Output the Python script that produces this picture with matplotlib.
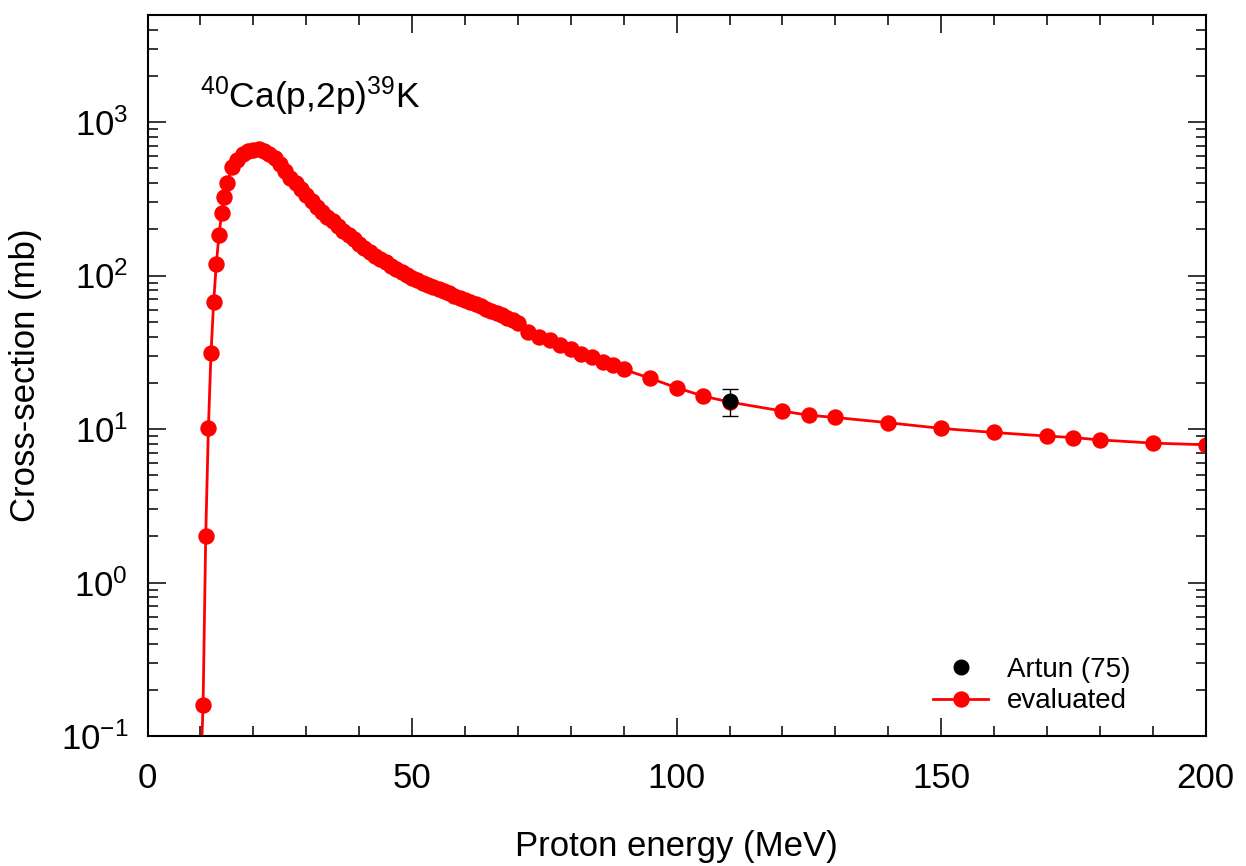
import math
import matplotlib
matplotlib.use("Agg")
import matplotlib.pyplot as plt
from matplotlib.ticker import MultipleLocator, LogLocator, FuncFormatter, NullFormatter

plt.rcParams["font.family"] = ["Liberation Sans", "DejaVu Sans"]

# --- evaluated cross-section (MeV, mb) ---
energy = [10.0, 10.5, 11.0, 11.5, 12.0, 12.5, 13.0, 13.5, 14.0, 14.5, 15.0,
          16, 17, 18, 19, 20, 21, 22, 23, 24, 25, 26, 27, 28, 29, 30,
          31, 32, 33, 34, 35, 36, 37, 38, 39, 40, 41, 42, 43, 44, 45,
          46, 47, 48, 49, 50, 51, 52, 53, 54, 55, 56, 57, 58, 59, 60,
          61, 62, 63, 64, 65, 66, 67, 68, 69, 70,
          72, 74, 76, 78, 80, 82, 84, 86, 88, 90,
          95, 100, 105, 110, 120, 125, 130, 140, 150, 160, 170, 175, 180, 190, 200]
xs = [0.05, 0.159, 2.02, 10.1, 31.4, 67.5, 119, 183, 254, 326, 399,
      507, 570, 620, 648, 662, 665, 650, 620, 580, 530, 480, 435, 398, 365, 335,
      307, 281, 260, 241, 225, 210, 196, 183, 172, 161, 152, 143, 135, 128, 122,
      116, 110, 105, 101, 97, 93, 90, 87, 84.5, 82, 79, 76.5, 74, 71.5, 69,
      67, 65, 63, 61, 59, 57, 55, 53, 51, 49,
      43, 39.9, 38, 35.2, 33, 30.8, 29.3, 27.4, 26.1, 24.5,
      21.4, 18.6, 16.4, 15.0, 13.1, 12.3, 11.9, 11.0, 10.1, 9.5, 9.0, 8.8, 8.5, 8.1, 7.9]

# --- experimental point ---
exp_energy = [110]
exp_xs = [15.2]
exp_err = [3.0]

fig = plt.figure(figsize=(12.46, 8.66), dpi=100)
ax = fig.add_axes([0.1184, 0.150, 0.8493, 0.833])

line_eval, = ax.plot(energy, xs, "-o", color="red", lw=2, ms=10.8,
                     mec="red", mfc="red", zorder=2)
ax.errorbar(exp_energy, exp_xs, yerr=exp_err, fmt="none", ecolor="black",
            elinewidth=1, capsize=6, capthick=1, zorder=3)
pt_exp, = ax.plot(exp_energy, exp_xs, "o", color="black", ms=10.5, zorder=4)

ax.set_yscale("log")
ax.set_xlim(0, 200)
ax.set_ylim(0.1, 5000)

ax.xaxis.set_major_locator(MultipleLocator(50))
ax.xaxis.set_minor_locator(MultipleLocator(10))
ax.yaxis.set_major_locator(LogLocator(base=10, numticks=10))
ax.yaxis.set_minor_locator(LogLocator(base=10, subs=range(2, 10), numticks=20))
ax.yaxis.set_major_formatter(FuncFormatter(
    lambda v, p: r"$\mathregular{10^{%d}}$" % round(math.log10(v))))
ax.yaxis.set_minor_formatter(NullFormatter())

ax.tick_params(which="both", direction="in", top=True, right=True, width=1.1)
ax.tick_params(which="major", length=13)
ax.tick_params(which="minor", length=7)
ax.tick_params(axis="x", labelsize=25, pad=19)
ax.tick_params(axis="y", labelsize=25, pad=14)
for s in ax.spines.values():
    s.set_linewidth(1.5)

ax.set_xlabel("Proton energy (MeV)", fontsize=25, labelpad=25)
ax.set_ylabel("Cross-section (mb)", fontsize=25, labelpad=13)

ax.text(0.0496, 0.8706, r"$\mathregular{^{40}}$Ca(p,2p)$\mathregular{^{39}}$K",
        transform=ax.transAxes, fontsize=25.5, va="baseline", ha="left")

ax.legend([pt_exp, line_eval], ["Artun (75)", "evaluated"], loc="upper left",
          bbox_to_anchor=(0.742, 0.110), frameon=False, fontsize=20,
          handlelength=2.0, handletextpad=0.68, labelspacing=0.2,
          borderpad=0, borderaxespad=0)

plt.savefig("out.png", dpi=100)
